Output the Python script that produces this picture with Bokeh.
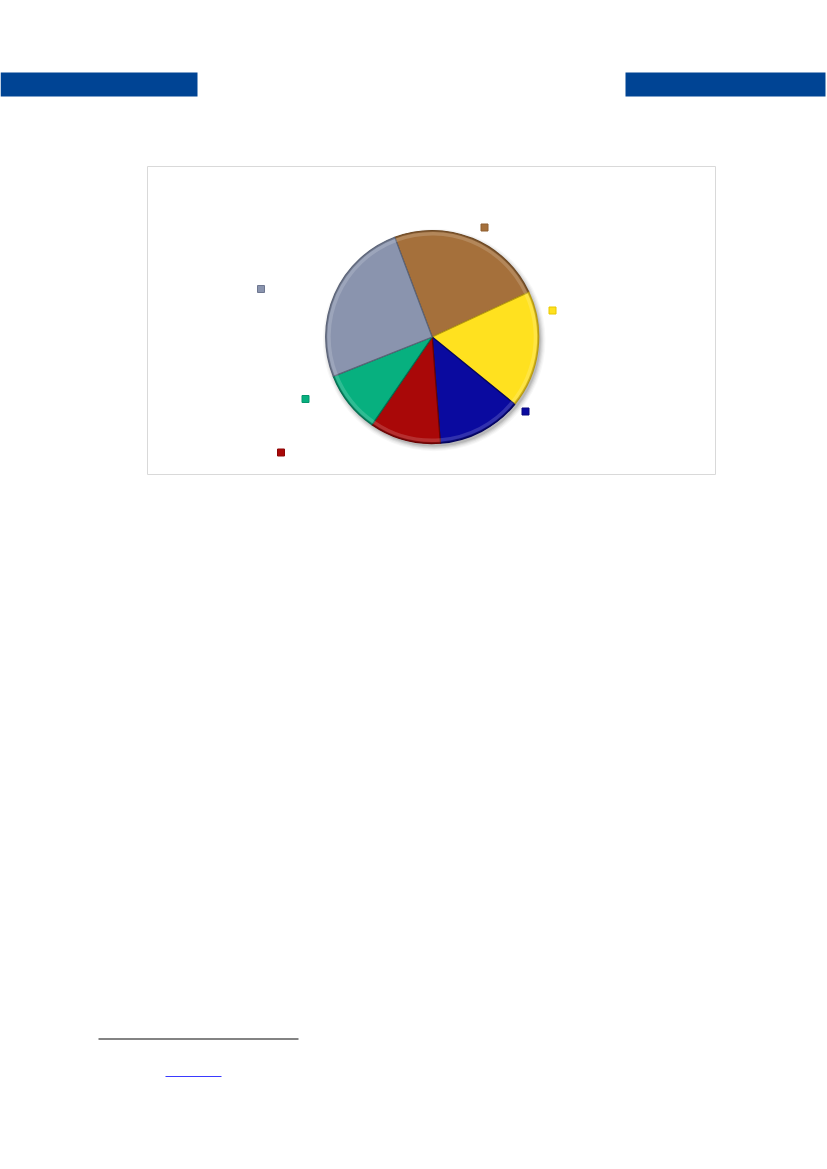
import math
from bokeh.plotting import figure
from bokeh.models import Range1d, ColumnDataSource
from bokeh.embed import file_html
from bokeh.resources import INLINE

# ---- data ----
slice_keys = ["brown", "yellow", "blue", "red", "green", "gray"]
slice_values = [23.8, 17.8, 12.9, 10.8, 9.4, 25.3]
slice_colors = ["#A5703B", "#FFE11F", "#0A0A9F", "#A90808", "#07B07F", "#8A94AE"]
edge_colors = ["#6E4A25", "#B89A10", "#05055F", "#6A0404", "#047052", "#5C6478"]
marker_colors = ["#8E5E30", "#E8C800", "#08087F", "#8E0606", "#05966C", "#6E7790"]
first_slice_start_deg = 339.4   # clockwise from 12 o'clock

# ---- layout (page pixels) ----
W, H = 827, 1169
cx, cy, R = 431.7, 336.5, 106.5
label_px = [484, 552, 525, 280.5, 305, 260.5]
label_py = [227, 310, 411, 452, 398.5, 288.5]


def fy(y):
    return H - y


p = figure(width=W, height=H, output_backend="svg", toolbar_location=None,
           x_range=Range1d(0, W), y_range=Range1d(0, H),
           x_axis_location=None, y_axis_location=None, min_border=0)
p.grid.visible = False
p.outline_line_color = None
p.background_fill_color = "white"
p.border_fill_color = "white"
p.styles = {"position": "absolute", "left": "0px", "top": "0px"}

# header bars
p.quad(left=[0, 625], right=[197, 825], top=[fy(72), fy(72)], bottom=[fy(96), fy(96)],
       fill_color="#004494", line_color=None)

# chart frame
p.quad(left=[147], right=[715], top=[fy(166)], bottom=[fy(474)],
       fill_color="white", line_color="#D9D9D9", line_width=1)

# pie shadow
for k, a in enumerate([0.10, 0.08, 0.06, 0.04, 0.03]):
    p.circle(x=[cx + 2], y=[fy(cy) - 3], radius=R + k * 1.2,
             fill_color="black", fill_alpha=a, line_color=None)

# pie wedges
total = sum(slice_values)
start0 = math.radians(90 - first_slice_start_deg)
starts, ends = [], []
acc = 0.0
for v in slice_values:
    s = start0 - 2 * math.pi * acc / total
    acc += v
    e = start0 - 2 * math.pi * acc / total
    starts.append(s)
    ends.append(e)

src = ColumnDataSource(dict(key=slice_keys, value=slice_values, start=starts, end=ends,
                            color=slice_colors, edge=edge_colors, mcol=marker_colors,
                            lx=label_px, ly=[fy(v) for v in label_py]))

p.wedge(x=cx, y=fy(cy), radius=R, start_angle="start", end_angle="end",
        direction="clock", fill_color="color", line_color="edge", line_width=1.2,
        source=src)
# bevel highlight / shade
p.annular_wedge(x=cx, y=fy(cy), inner_radius=R - 5, outer_radius=R - 1,
                start_angle="start", end_angle="end", direction="clock",
                fill_color="white", fill_alpha=0.16, line_color=None, source=src)
p.annular_wedge(x=cx, y=fy(cy), inner_radius=R - 1.5, outer_radius=R,
                start_angle="start", end_angle="end", direction="clock",
                fill_color="edge", fill_alpha=0.6, line_color=None, source=src)

# label keys (text not present in the reference)
p.scatter(x="lx", y="ly", marker="square", size=7, fill_color="color",
          line_color="mcol", line_width=1, source=src)

# footnote rule and link underline
p.segment(x0=[98], y0=[fy(1038.5)], x1=[298], y1=[fy(1038.5)],
          line_color="#5A5A5A", line_width=1.3)
p.segment(x0=[165], y0=[fy(1076)], x1=[221], y1=[fy(1076)],
          line_color="#3A3AFF", line_width=1.2)

open("out.html", "w").write(file_html(p, INLINE))
